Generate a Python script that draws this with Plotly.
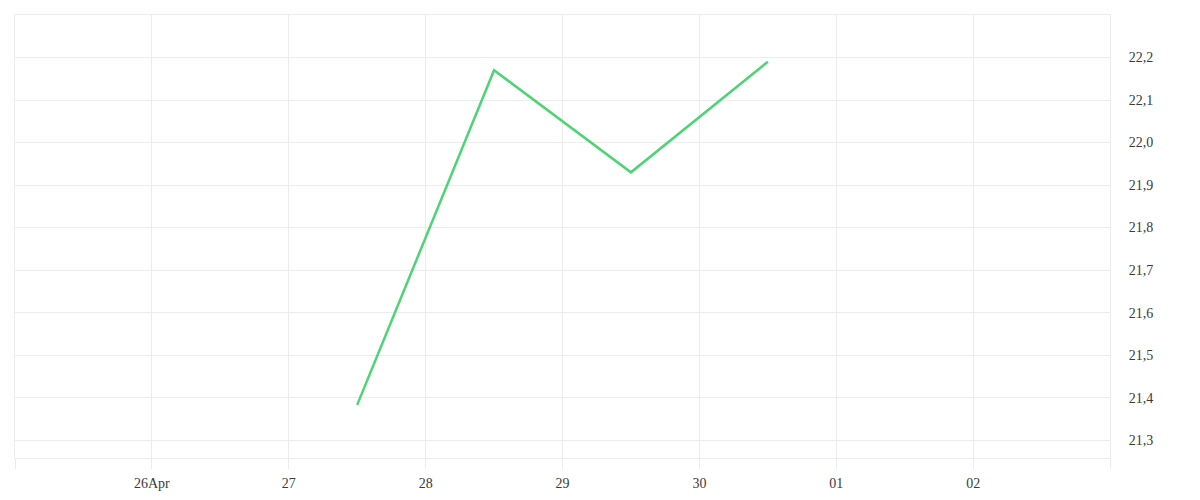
import plotly.graph_objects as go

dates = ["2024-04-27 12:00", "2024-04-28 12:00", "2024-04-29 12:00", "2024-04-30 12:00"]
values = [21.383, 22.17, 21.93, 22.19]

tick_dates = ["2024-04-25", "2024-04-26", "2024-04-27", "2024-04-28", "2024-04-29",
              "2024-04-30", "2024-05-01", "2024-05-02", "2024-05-03"]
tick_labels = ["", "26Apr", "27", "28", "29", "30", "01", "02", ""]
y_ticks = [21.3, 21.4, 21.5, 21.6, 21.7, 21.8, 21.9, 22.0, 22.1, 22.2, 22.3]
y_labels = ["21,3", "21,4", "21,5", "21,6", "21,7", "21,8", "21,9", "22,0", "22,1", "22,2", ""]

grid = "#ececec"
fig = go.Figure()
fig.add_trace(go.Scatter(x=dates, y=values, mode="lines",
                         line=dict(color="#4cd475", width=2.5), showlegend=False))

fig.update_layout(
    width=1200, height=500,
    margin=dict(l=7, r=98, t=7, b=50),
    paper_bgcolor="white", plot_bgcolor="white",
    font=dict(family="Liberation Serif", size=14, color="#3a3a3a"),
    xaxis=dict(range=["2024-04-25", "2024-05-03"], tickvals=tick_dates, ticktext=tick_labels,
               showgrid=True, gridcolor=grid, gridwidth=1, zeroline=False,
               ticks="outside", ticklen=10, tickcolor=grid, tickwidth=1,
               ticklabelstandoff=2,
               showline=True, linecolor=grid, linewidth=1, mirror=True),
    yaxis=dict(range=[21.258, 22.3], side="right", tickvals=y_ticks, ticktext=y_labels,
               showgrid=True, gridcolor=grid, gridwidth=1, zeroline=False,
               ticks="", ticklabelstandoff=15,
               showline=True, linecolor=grid, linewidth=1, mirror=True),
)
fig.write_html("out.html")
